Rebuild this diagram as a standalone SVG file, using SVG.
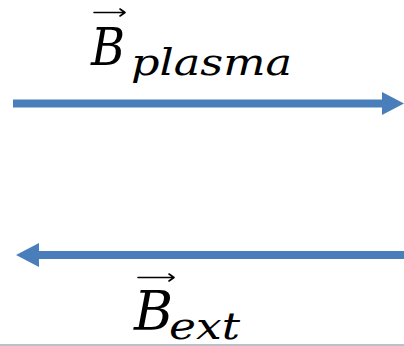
<svg xmlns="http://www.w3.org/2000/svg" width="404" height="346" viewBox="0 0 404 346">
<style>
.m{font-family:"DejaVu Serif","Liberation Serif",serif;font-style:italic;fill:#000}
.ac{stroke:#000;stroke-width:1.6;fill:none;stroke-linecap:round;stroke-linejoin:round}
.ar{fill:#4a7ebb}
</style>
<rect width="404" height="346" fill="#fff"/>
<g id="connectors">
<g id="arrow-plasma">
<rect class="ar" x="13" y="99.5" width="370" height="8"/>
<polygon class="ar" points="382,92 404,103.5 382,115"/>
</g>
<g id="arrow-ext">
<rect class="ar" x="38" y="251" width="366" height="8"/>
<polygon class="ar" points="16,255 39,243 39,267"/>
</g>
</g>
<g id="label-plasma">
<text class="m" x="91" y="65" font-size="52" textLength="34" lengthAdjust="spacingAndGlyphs">B</text>
<path class="ac" d="M94,12.5 H125 M120,9 L125,12.5 L120,16"/>
<text class="m" x="131" y="75" font-size="38" textLength="161" lengthAdjust="spacingAndGlyphs">plasma</text>
</g>
<g id="label-ext">
<text class="m" x="134" y="330" font-size="55" textLength="39" lengthAdjust="spacingAndGlyphs">B</text>
<path class="ac" d="M138,277.5 H174 M169,274 L174,277.5 L169,281"/>
<text class="m" x="169" y="339" font-size="37" textLength="71" lengthAdjust="spacingAndGlyphs">ext</text>
</g>
<line x1="0" y1="345" x2="404" y2="345" stroke="#a3acbb" stroke-width="1.5"/>
</svg>
